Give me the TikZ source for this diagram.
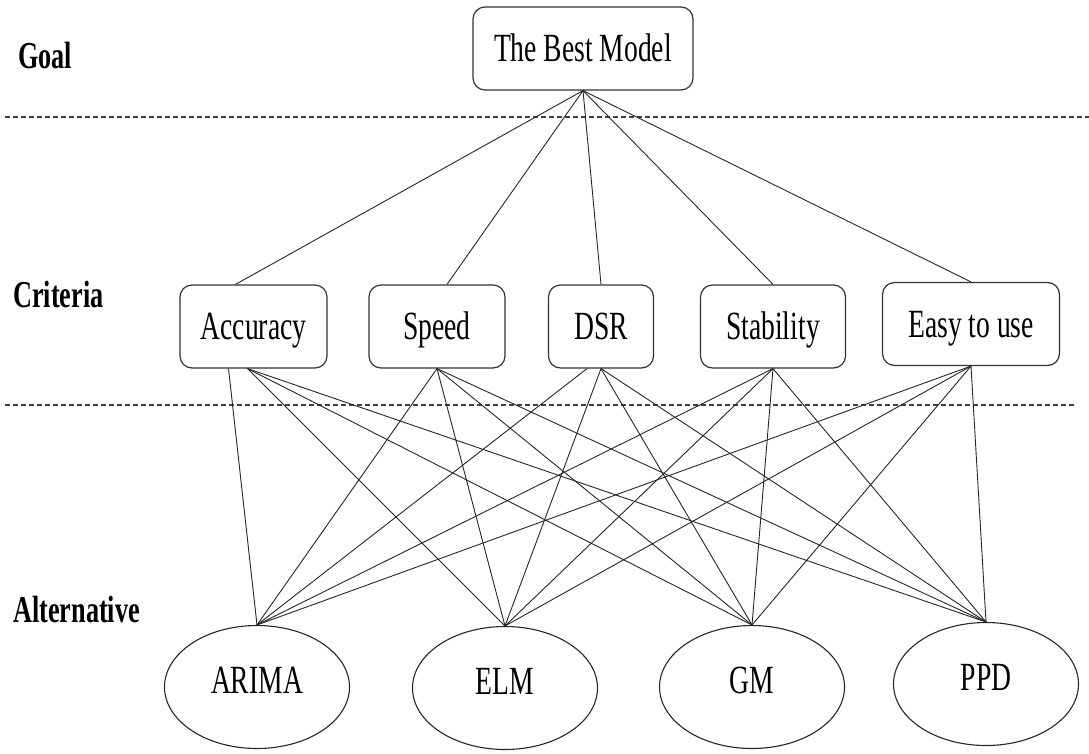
\documentclass[tikz,border=0pt]{standalone}
\usepackage{fontspec}
\setmainfont[FakeStretch=0.69]{Liberation Serif}
\usetikzlibrary{shapes.geometric}
\begin{document}
\begin{tikzpicture}[x=1pt,y=-1pt,
  lbl/.style={font=\fontsize{38}{40}\selectfont\bfseries, anchor=base west, inner sep=0pt},
  crit/.style={draw=black!80, line width=1.2pt, rounded corners=12pt, minimum height=83pt, inner sep=0pt, text height=26pt, text depth=0pt, font=\fontsize{40}{42}\selectfont},
  alt/.style={ellipse, draw=black!85, line width=1.1pt, minimum width=185pt, minimum height=123pt, inner sep=0pt, text height=26pt, text depth=14pt, font=\fontsize{40}{42}\selectfont},
  link/.style={draw=black!85, line width=0.9pt},
  sep/.style={draw=black!75, line width=1.3pt, dash pattern=on 5pt off 3pt}]
\useasboundingbox (0,0) rectangle (1089,753);

% separators
\coordinate (d1a) at (5,117);
\coordinate (d1b) at (1089,117);
\coordinate (d2a) at (5,405);
\coordinate (d2b) at (1075,405);
\draw[sep] (d1a) -- (d1b);
\draw[sep] (d2a) -- (d2b);

% level labels
\node[lbl] (lgoal) at (18,68) {Goal};
\node[lbl] (lcrit) at (13,307) {Criteria};
\node[lbl] (lalt) at (13,622) {Alternative};

% nodes
\node[crit, minimum width=220pt] (goal) at (583,48.5) {The Best Model};
\node[crit, minimum width=147pt] (acc) at (253.5,326.5) {Accuracy};
\node[crit, minimum width=136pt] (spd) at (437,326.5) {Speed};
\node[crit, minimum width=105pt] (dsr) at (601,326.5) {DSR};
\node[crit, minimum width=145pt] (stab) at (773,326.5) {Stability};
\node[crit, minimum width=177pt] (easy) at (971,324) {Easy to use};

\node[alt] (arima) at (257,687) {ARIMA};
\node[alt] (elm) at (505,688) {ELM};
\node[alt] (gm) at (752,687) {GM};
\node[alt] (ppd) at (986,684) {PPD};

% goal to criteria
\draw[link] (goal.south) -- ([xshift=-18pt]acc.north);
\draw[link] (goal.south) -- ([xshift=10pt]spd.north);
\draw[link] (goal.south) -- (dsr.north);
\draw[link] (goal.south) -- (stab.north);
\draw[link] (goal.south) -- (easy.north);

% criteria to alternatives
\draw[link] ([xshift=-25pt]acc.south) -- (arima.north);
\foreach \a in {elm,gm,ppd} \draw[link] ([xshift=-6pt]acc.south) -- (\a.north);
\foreach \a in {arima,elm,gm,ppd} \draw[link] (spd.south) -- (\a.north);
\draw[link] ([xshift=-14pt]dsr.south) -- (arima.north);
\foreach \a in {elm,gm,ppd} \draw[link] (dsr.south) -- (\a.north);
\foreach \a in {arima,elm,gm,ppd} \draw[link] (stab.south) -- (\a.north);
\foreach \a in {arima,elm,gm,ppd} \draw[link] (easy.south) -- (\a.north);
\end{tikzpicture}
\end{document}
